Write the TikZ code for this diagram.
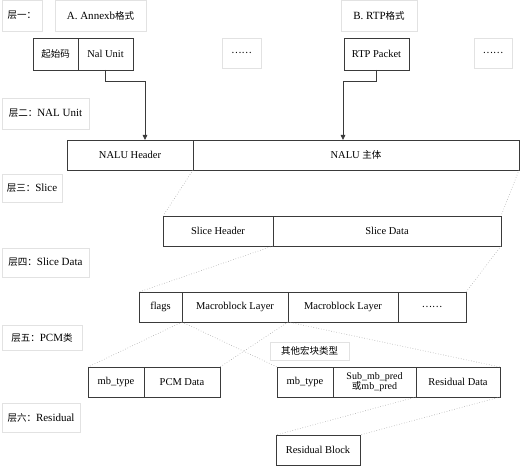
\documentclass[tikz,border=0pt]{standalone}
\usepackage{fontspec}
\setmainfont{Liberation Serif}
\newfontfamily\cjk{Noto Sans CJK SC}
\usetikzlibrary{arrows.meta, positioning}
\definecolor{edge}{HTML}{3a3a3a}
\definecolor{faint}{HTML}{e2e2e2}
\definecolor{dotc}{HTML}{a8a8a8}
\newcommand{\zh}[1]{{\cjk\fontsize{9.5}{11}\selectfont #1}}

\begin{document}
\begin{tikzpicture}[
  x=1pt, y=-1pt,
  node distance=0pt,
  cell/.style={rectangle, draw=edge, line width=0.8pt, minimum height=30pt,
               inner sep=1pt, outer sep=0pt, align=center,
               font=\fontsize{10.5}{10}\selectfont},
  tag/.style={rectangle, draw=faint, line width=0.6pt, fill=white,
              inner sep=1pt, outer sep=0pt, align=center,
              font=\fontsize{11}{12}\selectfont},
  arr/.style={-{Triangle[length=5pt, width=4.5pt]}, draw=edge, line width=0.8pt},
  fold/.style={draw=dotc, dotted, line width=0.6pt},
]
  \useasboundingbox (0,0) rectangle (527,470);

  % layer tags on the left
  \node[tag, anchor=north west, minimum width=40pt, minimum height=31pt] (t1) at (2,0)   {\zh{层一：}};
  \node[tag, anchor=north west, minimum width=87pt, minimum height=31pt] (t2) at (2,98)  {\zh{层二：}NAL Unit};
  \node[tag, anchor=north west, minimum width=60pt, minimum height=28pt] (t3) at (2,174) {\zh{层三：}Slice};
  \node[tag, anchor=north west, minimum width=87pt, minimum height=29pt] (t4) at (2,248) {\zh{层四：}Slice Data};
  \node[tag, anchor=north west, minimum width=80pt, minimum height=25pt] (t5) at (2,325) {\zh{层五：}PCM\zh{类}};
  \node[tag, anchor=north west, minimum width=78pt, minimum height=29pt] (t6) at (2,403) {\zh{层六：}Residual};

  % layer one: stream formats
  \node[tag, anchor=north west, minimum width=91pt, minimum height=31pt] (fa) at (55,0)  {A. Annexb\zh{格式}};
  \node[tag, anchor=north west, minimum width=76pt, minimum height=31pt] (fb) at (341,0) {B. RTP\zh{格式}};
  \node[cell, anchor=north west, minimum width=45pt, minimum height=32pt] (sc) at (33,38) {\zh{起始码}};
  \node[cell, right=of sc, minimum width=55pt, minimum height=32pt] (nu) {Nal Unit};
  \node[tag, anchor=north west, minimum width=39pt, minimum height=30pt] (el1) at (222,38) {\zh{……}};
  \node[cell, anchor=north west, minimum width=65pt, minimum height=32pt] (rtp) at (344,38) {RTP Packet};
  \node[tag, anchor=north west, minimum width=38pt, minimum height=30pt] (el2) at (474,38) {\zh{……}};

  % layer two: NAL unit
  \node[cell, anchor=north west, minimum width=126pt] (hdr) at (67,140) {NALU Header};
  \node[cell, right=of hdr, minimum width=326pt] (body) {NALU \zh{主体}};

  \draw[arr] (nu.south) -- ++(0,11) -| ([xshift=15pt]hdr.north);
  \draw[arr] (rtp.south) -- ++(0,11) -| ([xshift=-13pt]body.north);

  % layer three: slice
  \node[cell, anchor=north west, minimum width=110pt] (sh) at (163,216) {Slice Header};
  \node[cell, right=of sh, minimum width=228pt] (sd) {Slice Data};
  \draw[fold] (hdr.south east) -- (sh.north west);
  \draw[fold] (body.south east) -- (sd.north east);

  % layer four: slice data
  \node[cell, anchor=north west, minimum width=43pt] (flg) at (139,292) {flags};
  \node[cell, right=of flg, minimum width=106pt] (mbA) {Macroblock Layer};
  \node[cell, right=of mbA, minimum width=110pt] (mbB) {Macroblock Layer};
  \node[cell, right=of mbB, minimum width=68pt] (el3) {\zh{……}};
  \draw[fold] (sh.south east) -- (flg.north west);
  \draw[fold] (sd.south east) -- (el3.north east);

  % layer five: macroblocks
  \node[cell, anchor=north west, minimum width=56pt] (mbt) at (88,367) {mb\_type};
  \node[cell, right=of mbt, minimum width=76pt] (pcm) {PCM Data};
  \node[cell, anchor=north west, minimum width=56pt] (mbt2) at (277,367) {mb\_type};
  \node[cell, right=of mbt2, minimum width=83pt, font=\fontsize{10}{10.5}\selectfont] (sub) {Sub\_mb\_pred\\\zh{或}mb\_pred};
  \node[cell, right=of sub, minimum width=84pt] (res) {Residual Data};
  \draw[fold] (mbA.south west) -- (mbt.north west);
  \draw[fold] (mbA.south east) -- (pcm.north east);
  \draw[fold] (mbA.south west) -- (mbt2.north west);
  \draw[fold] (mbA.south east) -- (res.north east);
  \node[tag, anchor=north west, minimum width=79pt, minimum height=18pt] (oth) at (270,342) {\zh{其他宏块类型}};

  % layer six: residual
  \node[cell, anchor=north west, minimum width=84pt] (rb) at (276,435) {Residual Block};
  \draw[fold] (res.south west) -- (rb.north west);
  \draw[fold] (res.south east) -- (rb.north east);
\end{tikzpicture}
\end{document}
